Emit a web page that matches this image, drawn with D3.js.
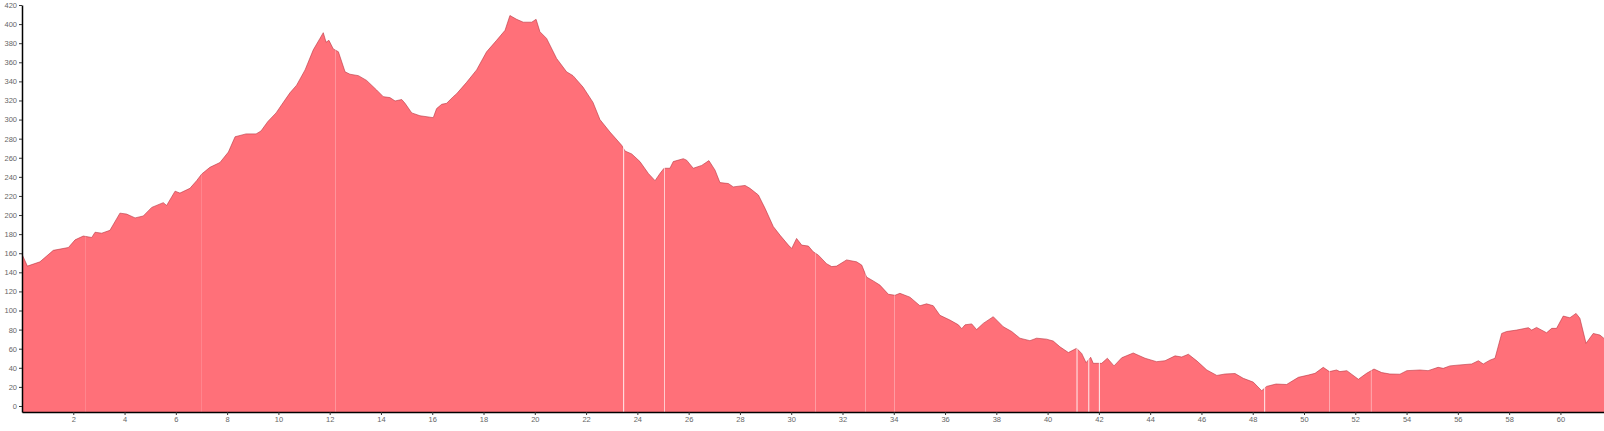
<!DOCTYPE html>
<html lang="en">
<head>
  <meta charset="UTF-8">
  <title>Elevation profile</title>
  <script src="https://d3js.org/d3.v7.min.js"></script>
  <style>
    body { margin: 0; background: #fff; }
    svg { display: block; }
    .axis text { font-family: Arial, "Liberation Sans", sans-serif; font-size: 7.5px; fill: #666; }
    .axis .domain { stroke: #000; stroke-width: 1.5px; }
    .axis .tick line { stroke: #333; }
  </style>
</head>
<body>
  <div id="chart"></div>

  <script>
    // distance along route (km) and elevation (m)
    const distanceKm = [
      0, 0.21, 0.70, 0.96, 1.22, 1.81, 2.07, 2.39, 2.72, 2.85, 3.11, 3.43, 3.82, 4.08, 4.41, 4.73,
      5.06, 5.51, 5.64, 5.97, 6.16, 6.55, 6.81, 7.01, 7.33, 7.72, 8.05, 8.31, 8.74, 9.13, 9.32, 9.59,
      9.91, 10.14, 10.45, 10.71, 11.04, 11.36, 11.62, 11.75, 11.86, 11.97, 12.14, 12.34, 12.60, 12.79,
      13.12, 13.44, 13.83, 14.09, 14.35, 14.55, 14.81, 14.94, 15.20, 15.52, 16.04, 16.17, 16.37, 16.56,
      16.82, 16.95, 17.34, 17.73, 18.12, 18.51, 18.84, 19.03, 19.29, 19.55, 19.88, 20.05, 20.20, 20.46,
      20.85, 21.24, 21.49, 21.88, 22.27, 22.54, 22.93, 23.39, 23.52, 23.78, 24.10, 24.43, 24.69, 24.88,
      25.04, 25.27, 25.40, 25.79, 25.92, 26.18, 26.51, 26.79, 27.03, 27.22, 27.55, 27.74, 28.20, 28.39,
      28.72, 28.98, 29.30, 29.56, 29.89, 30.02, 30.21, 30.41, 30.67, 30.86, 31.06, 31.38, 31.58, 31.77,
      32.16, 32.55, 32.75, 32.94, 33.20, 33.46, 33.79, 34.05, 34.24, 34.63, 35.02, 35.28, 35.54, 35.80,
      36.19, 36.52, 36.65, 36.78, 37.04, 37.23, 37.49, 37.88, 38.27, 38.60, 38.92, 39.31, 39.57, 39.96,
      40.22, 40.48, 40.81, 41.13, 41.33, 41.50, 41.68, 41.78, 42.11, 42.33, 42.59, 42.89, 43.34, 43.80,
      44.25, 44.58, 44.97, 45.23, 45.49, 45.83, 46.21, 46.60, 46.92, 47.31, 47.63, 48.02, 48.35, 48.54,
      48.91, 49.32, 49.78, 50.17, 50.43, 50.75, 50.99, 51.27, 51.40, 51.67, 52.12, 52.44, 52.73, 53.03,
      53.35, 53.74, 54.01, 54.52, 54.84, 55.23, 55.43, 55.69, 56.08, 56.54, 56.80, 56.99, 57.25, 57.45,
      57.71, 57.90, 58.29, 58.75, 58.88, 59.07, 59.46, 59.66, 59.85, 60.11, 60.37, 60.61, 60.76, 61.00,
      61.28, 61.54, 61.70
    ];
    const elevation = [
      159, 146.5, 151, 157, 163, 166, 174, 178, 176.5, 182, 181, 184, 202, 201, 197, 199,
      208, 213, 210, 225, 223, 228, 236, 243, 250, 255, 266, 282, 285, 285, 288, 298,
      307, 316, 328, 336, 352, 373, 385, 391, 381, 383, 374, 371, 350, 347.5,
      346, 341, 331, 324, 323, 319.5, 321, 317, 307, 304, 302, 311.5, 316, 317,
      324, 327, 339, 352, 371, 383, 393.5, 409, 405, 402, 402, 405, 392, 385,
      364, 350, 346, 334, 318, 300, 287, 273, 267, 264, 256, 243.5, 236, 243.5,
      249, 249, 256, 259, 257.5, 249, 252, 257, 247, 234, 233, 229.5, 231, 228,
      221, 207, 188, 179, 168.5, 165, 175.5, 168.5, 167.5, 161.5, 158, 149, 146, 146.5,
      153, 151, 147.6, 135, 131, 126.6, 117, 116, 118, 114, 105, 107, 105, 95,
      90, 85, 81, 85, 86, 80, 86.5, 93.5, 83, 78, 71, 68.4, 71, 70,
      68, 62, 56, 60.4, 55, 45.4, 51, 44.7, 44.7, 50, 42, 50.5, 55.5, 50,
      46.4, 47.4, 52.5, 51.3, 54.2, 47, 37.7, 32, 33.5, 34, 29, 25, 16, 20.5,
      23, 22.5, 30, 32.4, 34.2, 40.5, 36, 37.7, 36, 37, 28, 34.2, 38.7, 35,
      33.5, 33.3, 37, 37.7, 37, 40.5, 39.4, 42, 43, 44, 47.4, 44, 48, 50,
      76, 78, 79.5, 82, 79.5, 82.3, 76.7, 81.3, 81.3, 94.2, 92.4, 97, 91.8, 65.6,
      76, 74.3, 70.8
    ];

    // breaks in the recorded track: start km and missing length (km)
    const gapStartKm = [2.48, 7.01, 12.23, 23.45, 25.04, 30.93, 32.88, 34.01, 41.13, 41.59, 42.00, 48.45, 50.99, 52.61];
    const gapLengthKm = [0.006, 0.006, 0.01, 0.034, 0.025, 0.012, 0.012, 0.012, 0.034, 0.034, 0.034, 0.034, 0.016, 0.016];

    const yTicks = d3.range(0, 421, 20);
    const xTicks = d3.range(2, 61, 2);

    const width = 1604, height = 431;
    const margin = { left: 22, right: 0, top: 5, bottom: 19 };

    const svg = d3.select("#chart").append("svg")
      .attr("width", width)
      .attr("height", height);

    const x = d3.scaleLinear()
      .domain([0, 61.7])
      .range([margin.left, width - margin.right]);

    const y = d3.scaleLinear()
      .domain([-6.3, 420])
      .range([height - margin.bottom, margin.top]);

    const points = distanceKm.map((d, i) => ({ km: d, ele: elevation[i] }));

    const area = d3.area()
      .x(d => x(d.km))
      .y0(y(-6.3))
      .y1(d => y(d.ele));

    const line = d3.line()
      .x(d => x(d.km))
      .y(d => y(d.ele));

    svg.append("path")
      .datum(points)
      .attr("d", area)
      .attr("fill", "#ff7079");

    svg.append("path")
      .datum(points)
      .attr("d", line)
      .attr("fill", "none")
      .attr("stroke", "#b8343f")
      .attr("stroke-width", 0.6);

    // white slivers where the track is broken
    svg.selectAll(".gap")
      .data(gapStartKm)
      .enter().append("rect")
      .attr("class", "gap")
      .attr("x", d => x(d))
      .attr("width", (d, i) => x(d + gapLengthKm[i]) - x(d))
      .attr("y", y(420))
      .attr("height", y(-6.3) - y(420))
      .attr("fill", "#fff");

    svg.append("g")
      .attr("class", "axis")
      .attr("transform", `translate(${margin.left},0)`)
      .call(d3.axisLeft(y).tickValues(yTicks).tickSize(3).tickSizeOuter(0).tickPadding(2));

    svg.append("g")
      .attr("class", "axis")
      .attr("transform", `translate(0,${height - margin.bottom})`)
      .call(d3.axisBottom(x).tickValues(xTicks).tickSize(3).tickSizeOuter(0).tickPadding(2));
  </script>
</body>
</html>
